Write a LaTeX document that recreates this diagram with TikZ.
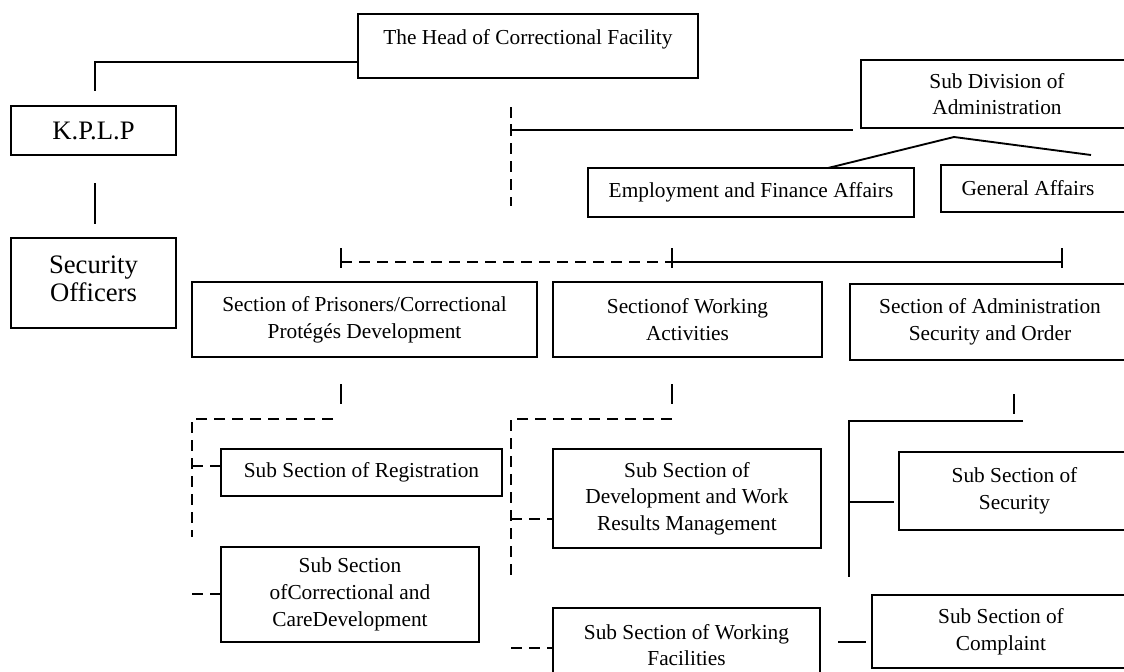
\documentclass[tikz,border=0pt]{standalone}
\usepackage{fontspec}
\setmainfont{Liberation Serif}
\usetikzlibrary{fit,calc}
\begin{document}
\begin{tikzpicture}[x=0.75pt,y=-0.75pt,
  box/.style={draw, line width=1.4pt, inner sep=0pt},
  txt/.style={align=center, inner sep=0pt, font=\fontsize{16}{20}\selectfont},
  bigtxt/.style={txt, font=\fontsize{20}{21}\selectfont},
  conn/.style={line width=1.4pt},
  dconn/.style={line width=1.5pt, dash pattern=on 8pt off 5.5pt}]
\fill[white] (0,0) rectangle (1124,671);
\useasboundingbox (0,0) rectangle (1124,671);

% boxes
\node[box, fit={(358,14) (698,78)}] (head) {};
\node[box, fit={(11,106) (176,155)}] (kplp) {};
\node[box, fit={(11,238) (176,328)}] (secoff) {};
\node[box, fit={(861,60) (1133,128)}] (subdiv) {};
\node[box, fit={(588,168) (914,217)}] (empl) {};
\node[box, fit={(941,165) (1130,212)}] (genaff) {};
\node[box, fit={(192,282) (537,357)}] (secpris) {};
\node[box, fit={(553,282) (822,357)}] (secwork) {};
\node[box, fit={(850,284) (1130,360)}] (secadm) {};
\node[box, fit={(221,449) (502,496)}] (regis) {};
\node[box, fit={(221,547) (479,642)}] (corrcare) {};
\node[box, fit={(553,449) (821,548)}] (devwork) {};
\node[box, fit={(553,608) (820,682)}] (workfac) {};
\node[box, fit={(899,452) (1130,530)}] (security) {};
\node[box, fit={(872,595) (1130,668)}] (complaint) {};

% texts
\node[txt] (head-t) at (head.center) {The Head of Correctional Facility\\[-6pt]\mbox{}};
\node[bigtxt] (kplp-t) at (kplp.center) {K.P.L.P};
\node[bigtxt] (secoff-t) at (secoff.center) {Security\\Officers\\[-14pt]\mbox{}};
\node[txt] (subdiv-t) at (subdiv.center) {Sub Division of\\Administration};
\node[txt] (empl-t) at (empl.center) {Employment and Finance Affairs};
\node[txt] (genaff-t) at (1028,188) {General Affairs};
\node[txt] (secpris-t) at (secpris.center) {Section of Prisoners/Correctional\\Protégés Development};
\node[txt] (secwork-t) at (secwork.center) {Sectionof Working\\Activities};
\node[txt] (secadm-t) at (secadm.center) {Section of Administration\\Security and Order};
\node[txt] (regis-t) at (regis.center) {Sub Section of Registration};
\node[txt] (corrcare-t) at (corrcare.center) {Sub Section\\ofCorrectional and\\CareDevelopment};
\node[txt] (devwork-t) at (devwork.center) {Sub Section of\\Development and Work\\Results Management};
\node[txt] (workfac-t) at (workfac.center) {Sub Section of Working\\Facilities};
\node[txt] (security-t) at (security.center) {Sub Section of\\Security};
\node[txt] (complaint-t) at (complaint.center) {Sub Section of\\Complaint};

% head -> K.P.L.P
\coordinate (hk1) at (95,62);
\coordinate (hk2) at (95,91);
\draw[conn] (head.west |- hk1) -- (hk1) -- (hk2);
% K.P.L.P -> Security Officers
\coordinate (ks1) at (95,183);
\coordinate (ks2) at (95,224);
\draw[conn] (ks1) -- (ks2);

% dashed vertical under head, solid to sub division
\coordinate (dv1) at (511,107);
\coordinate (dv2) at (511,206);
\coordinate (dvj) at (511,130);
\coordinate (sd1) at (853,130);
\draw[dconn] (dv1) -- (dv2);
\draw[conn] ($(dvj)+(0,-6)$) -- ($(dvj)+(0,6)$);
\draw[conn] (dvj) -- (sd1);

% sub division fork
\coordinate (fk) at (954,137);
\coordinate (fk1) at (828,168);
\coordinate (fk2) at (1091,155);
\draw[conn] (fk1) -- (fk) -- (fk2);

% row line above sections
\coordinate (r1) at (341,262);
\coordinate (r2) at (672,262);
\coordinate (r3) at (1062,262);
\draw[dconn] (r1) -- (r2);
\draw[conn] (r2) -- (r3);
\foreach \c in {r1,r2,r3}
  \draw[conn] ($(\c)+(0,-14)$) -- ($(\c)+(0,6)$);

% under section of prisoners
\coordinate (p1) at (341,384);
\coordinate (p2) at (341,404);
\coordinate (p3) at (333,419);
\coordinate (p4) at (192,419);
\coordinate (p5) at (192,537);
\coordinate (p6) at (192,466);
\coordinate (p7) at (192,594);
\draw[conn] (p1) -- (p2);
\draw[dconn] (p3) -- (p4) -- (p5);
\draw[dconn] (p6) -- (regis.west |- p6);
\draw[dconn] (p7) -- (corrcare.west |- p7);

% under section of working activities
\coordinate (w1) at (672,384);
\coordinate (w2) at (672,404);
\coordinate (w3) at (672,419);
\coordinate (w4) at (511,419);
\coordinate (w5) at (511,577);
\coordinate (w6) at (511,519);
\coordinate (w7) at (511,648);
\draw[conn] (w1) -- (w2);
\draw[dconn] (w3) -- (w4) -- (w5);
\draw[dconn] (w6) -- (devwork.west |- w6);
\draw[dconn] (w7) -- (workfac.west |- w7);

% under section of administration
\coordinate (a1) at (1014,394);
\coordinate (a2) at (1014,414);
\coordinate (a3) at (1023,421);
\coordinate (a4) at (849,421);
\coordinate (a5) at (849,577);
\coordinate (a6) at (849,502);
\coordinate (a7) at (894,502);
\coordinate (a8) at (838,642);
\coordinate (a9) at (866,642);
\draw[conn] (a1) -- (a2);
\draw[conn] (a3) -- (a4) -- (a5);
\draw[conn] (a6) -- (a7);
\draw[conn] (a8) -- (a9);
\end{tikzpicture}
\end{document}
